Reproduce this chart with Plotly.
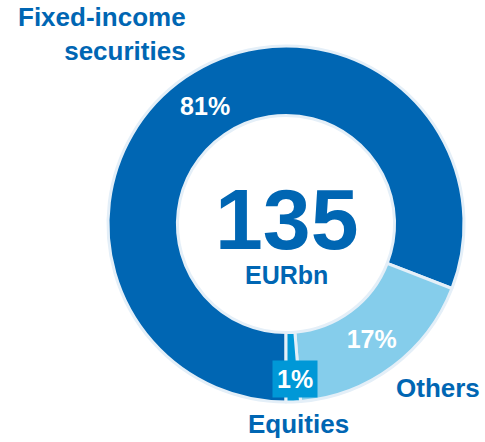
import plotly.graph_objects as go

# asset split of the portfolio, EUR bn total
categories = ["Fixed-income securities", "Others", "Equities"]
shares = [80.9, 17.8, 1.3]
share_labels = ["81%", "17%", "1%"]
total_value = "135"
total_unit = "EURbn"

DARK = "#0066b3"
LIGHT = "#85cdeb"
MID = "#0098d7"
EDGE = "#e4eff8"
FONT = "Arial, Liberation Sans, sans-serif"

W, H = 485, 442
cx, cy, r = 286, 224, 178   # donut centre / radius in pixels


def px(x):
    return x / W


def py(y):
    return 1 - y / H


fig = go.Figure(
    go.Pie(
        labels=categories,
        values=shares,
        text=[share_labels[0], share_labels[1], ""],
        textinfo="text",
        textposition="inside",
        insidetextorientation="horizontal",
        textfont=dict(family=FONT, size=25, color="white", weight="bold"),
        hole=0.61,
        sort=False,
        direction="clockwise",
        rotation=180,
        marker=dict(colors=[DARK, LIGHT, MID], line=dict(color=EDGE, width=3)),
        domain=dict(x=[px(cx - r), px(cx + r)], y=[py(cy + r), py(cy - r)]),
        hoverinfo="label+percent",
        showlegend=False,
    )
)

ann = []


def label(text, x, y, size=26, color=DARK, xanchor="center", yanchor="middle", **kw):
    ann.append(dict(
        text=text, x=px(x), y=py(y), xref="paper", yref="paper",
        xanchor=xanchor, yanchor=yanchor, showarrow=False,
        font=dict(family=FONT, size=size, color=color, weight="bold"), **kw,
    ))


label("Fixed-income<br>securities", 188, 34, align="right", xanchor="right")
label("Others", 438, 388)
label("Equities", 298, 424)
label(total_value, cx + 1, 219, size=86)
label(total_unit, cx, 275, size=25)
label(share_labels[2], 295, 379, size=25, color="white",
      bgcolor=MID, borderpad=4)

fig.update_layout(
    width=W,
    height=H,
    margin=dict(l=0, r=0, t=0, b=0),
    paper_bgcolor="white",
    plot_bgcolor="white",
    annotations=ann,
)

# drop the browser's default body margin so the figure sits at the corner
fig.write_html(
    "out.html",
    config={"displayModeBar": False},
    post_script="document.body.style.margin='0';",
)
